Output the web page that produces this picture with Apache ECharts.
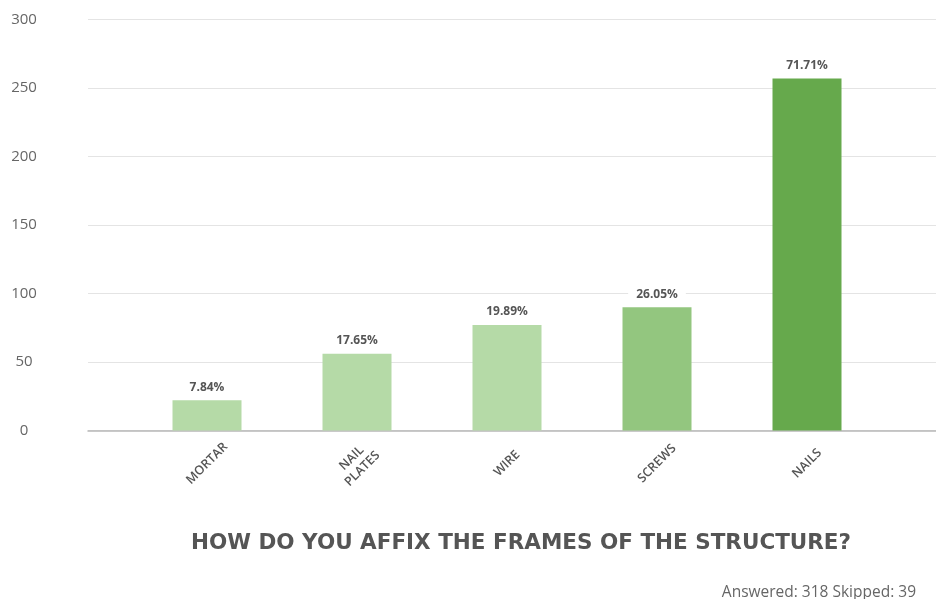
<!DOCTYPE html>
<html>
<head>
<meta charset="utf-8">
<script src="https://cdn.jsdelivr.net/npm/echarts@6/dist/echarts.min.js"></script>
<style>
  html, body { margin: 0; padding: 0; background: #fff; }
  #chart { width: 936px; height: 599px; }
</style>
</head>
<body>
<div id="chart"></div>
<script>
// Survey answers: how frames are affixed
const categories = ['MORTAR', 'NAIL\nPLATES', 'WIRE', 'SCREWS', 'NAILS'];
const counts = [22, 56, 77, 90, 257];
const percentLabels = ['7.84%', '17.65%', '19.89%', '26.05%', '71.71%'];
const yTicks = [0, 50, 100, 150, 200, 250, 300];

const barColors = ['#b5daa7', '#b5daa7', '#b5daa7', '#93c67f', '#66a94c'];
const FONT = '"Open Sans", sans-serif';
const TITLE_FONT = '"DejaVu Sans", sans-serif';

const chart = echarts.init(document.getElementById('chart'));

chart.setOption({
  animation: false,
  backgroundColor: '#fff',
  title: [
    {
      text: 'HOW DO YOU AFFIX THE FRAMES OF THE STRUCTURE?',
      left: 516, top: 527, textAlign: 'center',
      textStyle: { fontFamily: TITLE_FONT, fontSize: 21.5, fontWeight: 'bold', color: '#555' }
    },
    {
      text: 'Answered: 318 Skipped: 39',
      right: 15, top: 580,
      textStyle: { fontFamily: FONT, fontSize: 15.5, fontWeight: 'normal', color: '#666' }
    }
  ],
  grid: [
    // full-width grid carrying the value gridlines and tick labels
    { left: 88, right: 0, top: 19.5, height: 411, containLabel: false },
    // grid holding the bars
    { left: 132, width: 750, top: 19.5, height: 411, containLabel: false }
  ],
  xAxis: [
    {
      gridIndex: 0, type: 'category', data: [''],
      axisLine: { lineStyle: { color: '#b8b8b8', width: 1.5 } },
      axisTick: { show: false }, axisLabel: { show: false }
    },
    {
      gridIndex: 1, type: 'category', data: categories,
      axisLine: { show: false }, axisTick: { show: false },
      axisLabel: {
        rotate: 45, interval: 0, margin: 33,
        align: 'center', verticalAlign: 'middle',
        fontFamily: FONT, fontSize: 12.5, fontWeight: 600, color: '#555', lineHeight: 15
      }
    }
  ],
  yAxis: [
    {
      gridIndex: 0, type: 'value', min: 0, max: 300, interval: 50,
      axisLine: { show: false }, axisTick: { show: false },
      axisLabel: {
        align: 'center', margin: 64,
        fontFamily: FONT, fontSize: 15, color: '#666',
        formatter: v => (yTicks.includes(v) ? String(v) : '')
      },
      splitLine: { lineStyle: { color: '#e4e4e4', width: 1 } }
    },
    {
      gridIndex: 1, type: 'value', min: 0, max: 300, interval: 50,
      axisLine: { show: false }, axisTick: { show: false },
      axisLabel: { show: false }, splitLine: { show: false }
    }
  ],
  series: [
    {
      type: 'bar',
      xAxisIndex: 1, yAxisIndex: 1,
      barWidth: 69,
      data: counts.map((v, i) => ({ value: v, itemStyle: { color: barColors[i] } })),
      label: {
        show: true, position: 'top', distance: 5,
        formatter: p => percentLabels[p.dataIndex],
        fontFamily: FONT, fontSize: 12, fontWeight: 'bold', color: '#555',
        backgroundColor: '#fff', padding: [2, 8]
      },
      z: 3
    }
  ]
});
</script>
</body>
</html>
